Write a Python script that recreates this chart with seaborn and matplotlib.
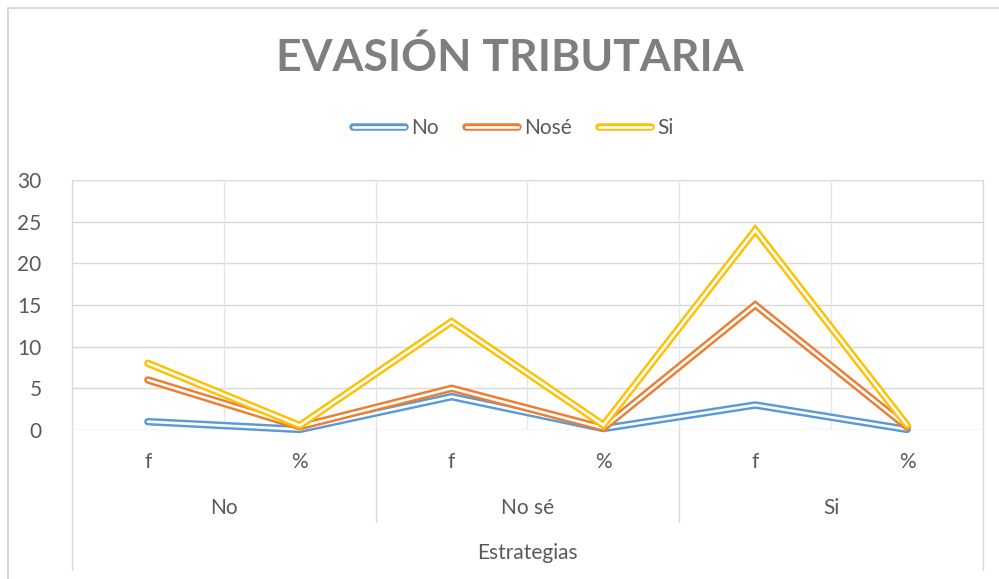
import numpy as np
import pandas as pd
import matplotlib
matplotlib.use('Agg')
import matplotlib.pyplot as plt
import matplotlib.patheffects as pe
import matplotlib.transforms as mtransforms
from matplotlib.lines import Line2D
import seaborn as sns

# data
grupos = ['No', 'No sé', 'Si']
categorias = ['f', '%', 'f', '%', 'f', '%']
series = ['No', 'Nosé', 'Si']
val_no = [1, 0.07, 4, 0.18, 3, 0.07]
val_nose = [6, 0.40, 5, 0.23, 15, 0.36]
val_si = [8, 0.53, 13, 0.59, 24, 0.57]
colores = ['#5B9BD5', '#ED7D31', '#FFC000']

rows = []
for s, vals in zip(series, [val_no, val_nose, val_si]):
    for i, v in enumerate(vals):
        rows.append({'serie': s, 'pos': i, 'valor': v})
df = pd.DataFrame(rows)

sns.set_style('white')
plt.rcParams['font.family'] = ['Lato', 'DejaVu Sans']
gris = '#595959'

fig = plt.figure(figsize=(9.99, 5.79), dpi=100)
W, H = 999, 579
ax = fig.add_axes([72 / W, (H - 430) / H, 911 / W, 250 / H])

sns.lineplot(data=df, x='pos', y='valor', hue='serie', palette=colores,
             sort=False, legend=False, ax=ax, clip_on=False)

def doble(c):
    return [pe.Stroke(linewidth=5.4, foreground=c), pe.Stroke(linewidth=1.9, foreground='white')]

for ln, c in zip(ax.lines, colores):
    ln.set_path_effects(doble(c))
    ln.set_solid_joinstyle('miter')
    ln.set_zorder(3)

ax.set_xlim(-0.5, 5.5)
ax.set_ylim(0, 30)
ax.set_yticks(range(0, 31, 5))
ax.set_xticks([])
ax.set_xlabel('')
ax.set_ylabel('')
for s in ax.spines.values():
    s.set_visible(False)
for y in range(0, 31, 5):
    ax.axhline(y, color='#D9D9D9', lw=1, zorder=1)
for x in np.arange(0.5, 5, 1):
    ax.axvline(x, color='#E6E6E6', lw=1, zorder=1)
ax.tick_params(axis='y', length=0, pad=22, labelsize=15, labelcolor=gris)

# multi-level category axis
def fy(py):
    return (H - py) / H
def fx(px):
    return px / W

tr = mtransforms.blended_transform_factory(ax.transData, fig.transFigure)
for i, c in enumerate(categorias):
    ax.text(i, fy(462), c, transform=tr, ha='center', va='center', fontsize=15, color=gris)
for g, grp in enumerate(grupos):
    ax.text(2 * g + 0.5, fy(508), grp, transform=tr, ha='center', va='center',
            fontsize=15, color=gris)
for xb in [1.5, 3.5]:
    fig.add_artist(Line2D([ax.transData.transform((xb, 0))[0] / W] * 2, [fy(430), fy(522)],
                          color='#D9D9D9', lw=1))
for px in [72, 983]:
    fig.add_artist(Line2D([fx(px)] * 2, [fy(180), fy(570)], color='#D9D9D9', lw=1))
fig.text(fx(527), fy(553), 'Estrategias', ha='center', va='center', fontsize=15, color=gris)

# chart border
fig.add_artist(Line2D([fx(7.5), fx(7.5), fx(999)], [fy(600), fy(7.5), fy(7.5)],
                      color='#D9D9D9', lw=1.5))

fig.text(fx(510), fy(57), 'EVASIÓN TRIBUTARIA', ha='center', va='center',
         fontsize=32, fontweight='bold', color='#7F7F7F')

handles = [Line2D([], [], color=c, lw=1, path_effects=doble(c)) for c in colores]
fig.legend(handles, series, loc='center', bbox_to_anchor=(fx(513), fy(128)), ncol=3,
           frameon=False, fontsize=15, labelcolor=gris, handlelength=2.5,
           handletextpad=0.3, columnspacing=1.3)

fig.savefig('out.png', dpi=100)
